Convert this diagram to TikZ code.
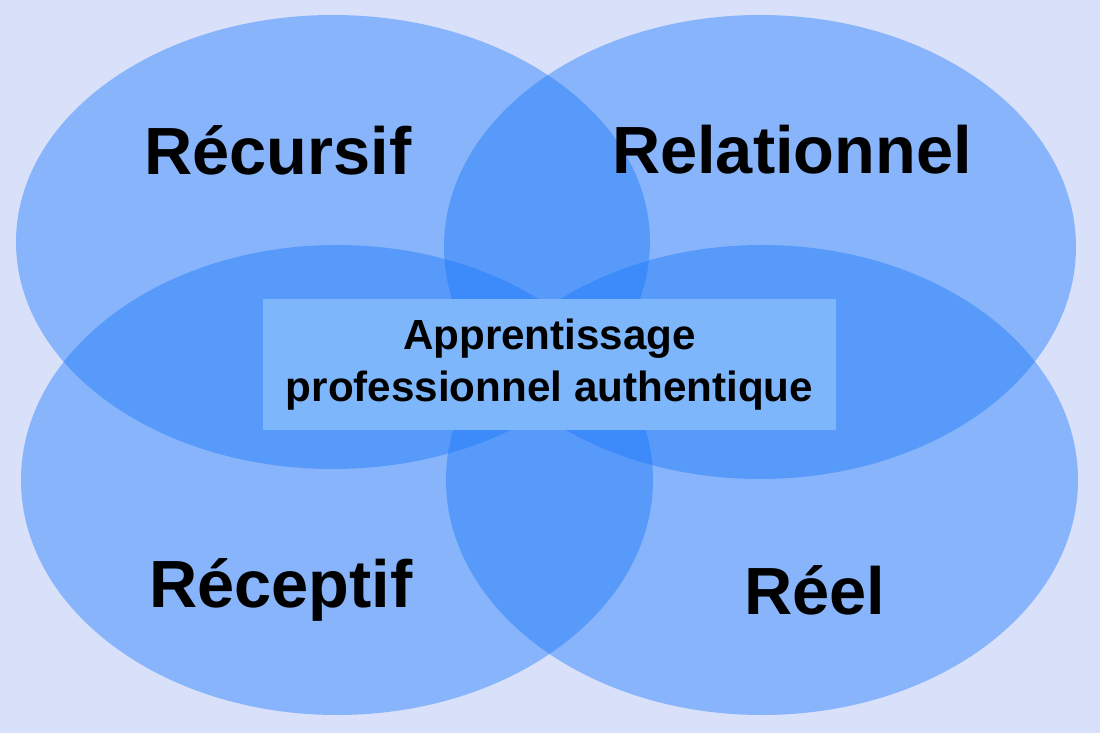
\documentclass[tikz,border=0pt]{standalone}
\usepackage{fontspec}
\setmainfont{Liberation Sans}
\definecolor{vennbg}{RGB}{216,224,250}
\definecolor{vennblue}{RGB}{25,120,250}
\definecolor{vennbox}{RGB}{125,182,250}
\usetikzlibrary{positioning}
\tikzset{
  petal/.style={fill=vennblue, fill opacity=0.42, draw=none},
  biglabel/.style={font=\bfseries\fontsize{38}{44}\selectfont, text=black},
  corebox/.style={fill=vennbox, minimum width=11.46cm, minimum height=2.62cm,
    align=center, font=\bfseries\fontsize{24}{29.5}\selectfont}
}
\begin{document}
\begin{tikzpicture}[x=0.02cm,y=-0.02cm]
    % Background
    \fill[vennbg] (0,0) rectangle (1100,733);
    \useasboundingbox (0,0) rectangle (1100,733);

    % Four sets
    \fill[petal] (333,242) ellipse [x radius=317, y radius=227];
    \fill[petal] (760,247) ellipse [x radius=316, y radius=232];
    \fill[petal] (337,480) ellipse [x radius=316, y radius=235];
    \fill[petal] (762,480) ellipse [x radius=316, y radius=235];

    % Labels
    \node[biglabel] (recursif) at (278,150) {Récursif};
    \node[biglabel] (relationnel) at (792,150) {Relationnel};
    \node[biglabel] (receptif) at (281,590) {Réceptif};
    \node[biglabel] (reel) at (815,590) {Réel};

    % Core
    \node[corebox] (core) at (549.5,364.5) {Apprentissage\\professionnel authentique};
\end{tikzpicture}
\end{document}
